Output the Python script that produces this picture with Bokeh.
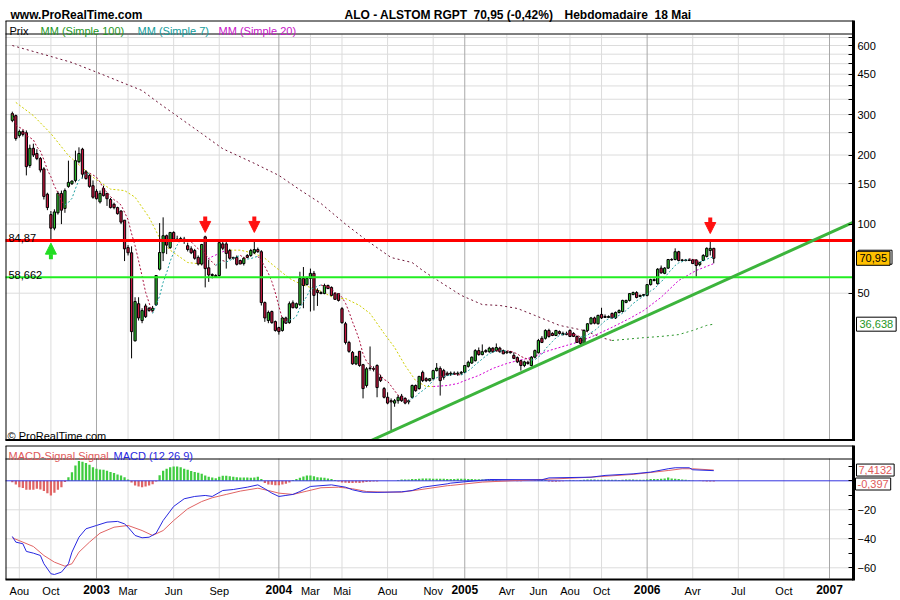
import datetime as dt
import pandas as pd
from bokeh.plotting import figure
from bokeh.layouts import column
from bokeh.models import (Range1d, Label, Arrow, NormalHead, FixedTicker, NumeralTickFormatter)
from bokeh.embed import file_html
from bokeh.resources import INLINE

# ---------------- data (weekly bars, first bar week of 2002-07-15) ----------------
first_week = "2002-07-15"

opens = [283,297,243,253,250,180,214,203,193,174, 135,110,96,112,136,117,146,150,155,187,
         212,169,163,147,139,125,143,136,128,122, 118,114,104,79,75,31,45,38,44,43,
         42,44.5,63.6,75,89,79,92,86,85,86, 80.5,78,76.7,71.6,67,88,64.5,60.3,59.7,59.7,
         82,82,76.7,71.6,71.6,69.4,67.3,73,73,75, 77.5,75.8,45.5,38,41.6,37.6,35.4,34.4,39,37.2,
         45.4,43.2,44.6,58,54.5,58,61,51.4,50.3,49.8, 54,53,49.8,49.8,42.8,36.8,30.5,27.6,24.6,27.9,
         24.4,19.8,23.6,23.5,24.2,21.5,19.2,17.6,17,16.6, 17,17.8,17.4,16.8,17.6,19.8,19.2,22.6,21.2,20.8,
         21.2,23,23.5,23,22.4,22.2,22.4,22.2,22.4,22.6, 24,24.8,25.4,28.1,27,28.1,27.8,28.8,28.1,28.8,
         28.1,27.5,27.8,26.8,26.2,25.4,24.2,25,24.2,26.3, 27.5,31.8,31.8,34.4,33.4,32.7,34,33,33.4,34.4,
         33.4,32.4,31.8,30.2,34.4,36.8,39,36.8,40.4,39.6, 39.2,40.8,39,41.2,41.6,45.6,46.5,49.3,50.3,48.4,
         48.9,48.9,54.5,56.8,55,64.3,61,64.3,70.1,70.1, 75.8,69.8,69.4,69.8,69.8,69.8,66.6,69.4,72.3,76.7,
         78.4]
highs = [309,300,258,258,256,222,224,212,196,177, 137,114,116,139,140,143,189,155,209,216,
         215,172,165,155,142,140,147,137,130,124, 119,115,104,81,80,48,48,43,45,43.5,
         44,60,101,107,90,92,93,89,88,88, 83,80,78,73,82,89,70,61,60.5,84.8,
         85,85,78,72,73,70,72,74,78,84.8, 79,77,46,42,42,38,35.7,39.4,39.5,46,
         46.5,45.5,62,65,59,64,62.5,52.5,51,55, 54.5,53.5,50.5,50,43.5,37.5,31,28,26.7,28,
         24.6,23.8,29.3,24,24.5,22,19.5,18.5,17.4,17.3, 18,18.2,17.6,17.2,20,20,21.8,23,21.5,21.3,
         23.2,24.8,24,23.4,22.8,22.8,22.8,22.8,22.9,24.3, 25.4,26.5,28.5,29,29.9,28.5,29.2,29.1,30.2,29.2,
         28.4,28,28,27.6,26.5,25.6,25.4,25.4,26.6,28.4, 31.6,32.5,34.8,35,33.8,34.6,34.4,34,34,34.8,
         33.8,32.7,32,34.8,37,39.4,39.5,40.3,43.2,40.4, 40,41.2,41.6,42.5,46.8,46.8,50,50.8,51,49.3,
         49.6,54.8,57.8,58,64.3,66,65,70.5,71,78.4, 76.5,70.5,70.5,70.8,70.5,70.2,68.5,74,79.2,85.5,
         78.8]
lows = [278,231,238,241,163,176,196,190,168,128, 115,86,94,110,100,112,144,148,152,184,
        158,156,144,129,128,123,132,120,117,116, 110,100,69,73,26,30.8,38,37,39,41.5,
        41.5,44,62.8,69,74,78,85,84,84,82, 76,74,70,66,66,53,56,58,58.5,59,
        77,64,70,70,66,67,66,71,72,74, 75,44.2,37.5,37,36.8,34,33,34,36.8,36.8,
        43,42.8,44,43,54,41.6,42,44,49.5,49.5, 52,48.5,47,46,36.8,29.9,27.5,24.4,24.3,23.9,
        17.4,19.4,23,22.8,17.6,20.5,17.4,16.4,12.6,16, 16.5,16.8,16.4,16.4,17.4,18.6,19,20.5,20.5,20.6,
        21,22.8,17.9,21,21.8,21.8,22,21.8,22,22.4, 23.7,24.6,25.2,26.7,26.8,27.5,27.5,27.5,27.8,27.5,
        27.2,27.2,27.3,25.8,24.8,23,23.8,24.4,24,26, 27.3,30.3,31.4,32,32.5,32.5,33,32.7,32.8,32.2,
        32.2,30.4,29.6,29.8,34,36.5,36.6,36.5,38.6,39, 39,38.8,38.6,40.8,41.2,45.2,46,49,47.5,48,
        48.4,48.4,54,56.3,54.5,60.8,60.5,63.8,69.2,69.5, 68.8,68.8,68.8,69,67,59,65.5,69,71.6,73,
        67.5]
closes = [303,236,253,246,178,214,200,193,172,132, 118,96,113,136,115,140,152,154,189,203,
          165,158,146,131,129,136,133,129,118,118, 111,102,78,75,34,46,39,42,39.5,42,
          43,59.7,75.2,89,81,92,86,85,86.5,84, 77.5,75,71,67,81.5,64,60,59.7,59,83,
          78.5,74.5,71,71,66.8,67,71,71.6,76.7,77.5, 75.8,45.5,39,41.2,37.2,34.4,34,39,37,45,
          43.2,45,58,54,58,61,48.9,50.3,49.8,54, 52.4,48.9,47,46.5,37.2,30.5,27.9,24.6,26.5,24.2,
          19.2,23.4,23.5,23.3,19.4,20.8,17.6,16.6,16.8,17, 17.6,17,16.6,17,19.8,18.8,21.7,20.8,20.8,21.2,
          23,23.6,20.8,21.5,22,22.4,22.2,22.4,22.6,24.2, 25,26.3,28.1,27,27.8,27.8,28.8,27.8,29,27.8,
          27.2,27.8,27.5,26,25.1,24.2,25.1,24.7,26.3,28.1, 31.1,30.5,34.4,32.4,32.7,34.4,33.4,33.4,33,32.4,
          32.4,30.5,30.2,34.4,36.8,39,37,40,39,39.2, 39.6,39,41.2,42,46.5,46.5,49.8,50.3,47.9,48.9,
          49.3,54.5,57.3,57.3,63.6,61.3,64.3,70.1,69.8,75.8, 69.4,69.4,69.8,69.4,67.3,66,68,73,78.4,78.4,
          70.95]

# moving averages (week index, value)
ma20_week = [1,6,11,16,20,23,28,32,35,39,42,45,50,54,56,61,65,69,72,75,79,82,88,92,95,99,102,106,109,112,
             115,118,120,124,127,129,133,137,141,144,148,152,158,161,166,171,176,180,185,190,195,200]
ma20_vals = [339,297,248,199,176,160,142,140,131,107,87,77,68,67,71,77,77,74.5,71,65,58,55,51,47.4,47.4,44.2,
             40.8,33.4,29,24.2,20.8,19.6,19.6,19.8,20.2,20.8,21.9,23.5,24.7,25.4,26.2,27.8,29.6,30.5,32.7,35.5,
             38.8,42,48,56.8,62.8,67.3]
ma100_week = [0,8,17,25,32,37,42,46,54,60,69,76,82,88,95,101,108,114,117,120,128,134,139,144,149,156,163,169,
              171,180,185,190,194,198,200]
ma100_vals = [600,554,506,453,410,382,335,303,248,213,184,163,141,123,100,85,71.5,68,62.8,58.5,48.9,44.6,44.2,
              42.9,40,36.2,34.4,31.7,31.1,32,32.4,33,34.4,36.2,36.638]

# MACD (12 26 9)
macd_week = [0,1,3,4,6,8,9,11,12,14,16,17,19,21,24,27,30,32,33,35,37,39,41,43,46,49,52,55,57,60,63,67,70,72,74,
             76,78,80,82,85,91,95,97,100,104,111,114,117,124,125,136,151,153,165,169,177,182,187,189,193,194,200]
macd_vals = [-38.4,-42.3,-43.4,-48.7,-49.9,-51.5,-57.2,-64.1,-64.6,-63,-57.2,-49.2,-38.9,-33.1,-30.8,-28.5,-28,
             -29.7,-32,-37.7,-39.3,-38.9,-36.1,-27.4,-17.7,-12.4,-10.8,-10.1,-10.8,-6.7,-6,-4.4,-2.8,-5.5,-8.5,
             -10.8,-10.1,-9.4,-7.4,-3.9,-2.8,-4.4,-6.2,-7.8,-8,-7.6,-6.7,-4.4,-2.1,-1.6,0.9,0.7,2.0,2.5,3.7,4.8,
             6.0,8.3,9.0,9.0,7.6,7.0]
signal_week = [0,3,6,9,12,15,17,19,22,25,29,33,37,40,43,46,50,54,57,61,65,70,73,76,80,84,88,93,97,101,106,111,
               116,124,125,134,144,153,165,177,187,191,194,200]
signal_vals = [-39.3,-42.3,-45.3,-51.5,-56.1,-58.9,-57.2,-49.2,-42.3,-36.1,-32,-30.8,-34.3,-37.7,-34.3,-27.4,
               -19.3,-14.3,-11.7,-9.4,-7.1,-5.1,-6.7,-8.5,-9.4,-7.1,-4.8,-4.4,-5.5,-7.4,-7.8,-7.8,-6.2,-3.4,-3.2,
               -0.9,0.2,1.1,2.5,4.4,7.1,8.3,8.3,7.4132]
hist_vals = [-1.0,-2.5,-4.4,-5.0,-6.2,-6.2,-6.2,-5.5,-6.0,-7.1, -8.5,-10.1,-8.3,-6.2,-4.4,-0.9,2.5,5.9,10.6,13.6,
             13.1,12.2,11.0,9.4,8.3,7.8,7.6,6.9,6.0,5.3, 4.4,3.7,2.5,0.9,-1.2,-3.2,-3.9,-4.4,-3.9,-3.2,
             -2.3,-0.5,3.9,6.9,8.3,9.4,9.9,9.9,9.4,8.3, 7.6,6.7,6.0,5.5,4.8,3.7,2.8,2.3,1.8,2.8,
             3.4,3.4,3.2,2.8,2.5,2.3,2.3,2.3,2.1,2.3, 2.8,1.2,-1.6,-2.5,-2.8,-3.0,-3.0,-2.5,-2.1,-1.2,
             0.5,1.2,2.1,3.0,3.7,3.7,3.2,2.5,2.3,2.1, 1.6,1.2,0.5,-0.5,-1.2,-1.4,-1.6,-1.6,-1.4,-1.6,
             -1.2,-0.9,-0.7,-0.5,-0.4,0,0,0,0,0, 0.5,0.9,0.9,0.9,1.2,1.2,1.4,1.6,1.6,1.6,
             1.4,1.4,1.4,1.4,1.2,1.2,1.2,1.4,1.4,1.4, 1.2,1.2,1.0,1.0,0.9,0.9,0.7,0.5,0.4,0.2,
             0,0,-0.2,-0.2,-0.3,-0.3,-0.2,0,0.2,0.4, 0.5,0.7,0.7,-0.5,-0.7,-0.7,-0.5,-0.3,0.2,0.3,
             0.3,0.2,0.5,0.7,0.9,0.9,0.9,0.7,0.7,0.7, 0.7,0.7,0.7,0.5,0.7,0.9,0.9,0.9,0.7,0.7,
             0.7,0.9,1.2,1.2,1.2,1.4,1.6,2.3,1.6,1.4, 1.2,0.9,0.7,0.4,0.2,0,-0.2,-0.3,-0.4,-0.4,
             -0.397]

# support / resistance, trend line, markers
resistance = 84.87
support = 58.662
trend_dates = ["2004-06-30", "2007-02-18"]
trend_prices = [11.4, 102.0]
arrow_down_weeks = [55, 69, 199]
arrow_down_tips = [92.0, 92.0, 91.0]
arrow_up_weeks = [11]
arrow_up_tips = [82.6]

# axes
price_ticks_labeled = [50, 100, 150, 200, 300, 450, 600]
price_ticks_minor = [250, 350, 400, 500, 550, 650]
macd_ticks_labeled = [-60, -40, -20]
macd_ticks_minor = [-50, -30, -10, 0, 10]
month_dates = ["2002-07-29","2002-09-30","2002-12-30","2003-03-03","2003-06-02","2003-09-01","2003-12-29",
               "2004-03-01","2004-05-03","2004-08-02","2004-11-01","2005-01-03","2005-03-28","2005-05-30",
               "2005-08-01","2005-10-03","2006-01-02","2006-04-03","2006-07-03","2006-10-02","2007-01-01"]
month_labels = ["Aou","Oct","2003","Mar","Jun","Sep","2004","Mar","Mai","Aou","Nov","2005","Avr","Jun",
                "Aou","Oct","2006","Avr","Jul","Oct","2007"]

# ---------------- helpers ----------------
FONT = "Liberation Sans"
EPOCH = dt.datetime(1970, 1, 1)
DAY = 86400000.0


def ms(d):
    if isinstance(d, str):
        d = dt.datetime.strptime(d, "%Y-%m-%d")
    return (d - EPOCH).total_seconds() * 1000.0


w0 = ms(first_week)
def wk(k):
    return w0 + 7 * DAY * k

n = len(closes)
xs = [wk(k) for k in range(n)]

# mapping of pixel columns / rows of the layout to data space
ANCHOR_MS = ms("2007-01-01")
def x_px(px):
    return ANCHOR_MS + (px - 829.0) / 0.50103 * DAY
def p_px(py):
    return 10 ** (2 - (py - 223.6) / 229.5)
def m_px(py):
    return (480.3 - py) / 1.45


def runs(xv, yv, up, down):
    xl, yl, cl = [], [], []
    cur = None
    for i in range(len(xv) - 1):
        c = up if yv[i + 1] > yv[i] else down
        if c != cur:
            xl.append([xv[i]]); yl.append([yv[i]]); cl.append(c); cur = c
        xl[-1].append(xv[i + 1]); yl[-1].append(yv[i + 1])
    return xl, yl, cl


def add_label(p, x, y, text, size="11px", color="black", style="normal", align="left",
              baseline="alphabetic", **kw):
    p.add_layout(Label(x=x, y=y, text=text, text_font=FONT, text_font_size=size, text_color=color,
                       text_font_style=style, text_align=align, text_baseline=baseline, **kw))


def hline(p, y, x0=5, x1=853, color="black", width=1, **kw):
    p.segment(x0=[x_px(x0)], y0=[y], x1=[x_px(x1)], y1=[y], line_color=color, line_width=width, **kw)


def vline(p, x, y0, y1, color="black", width=1, **kw):
    p.segment(x0=[x], y0=[y0], x1=[x], y1=[y1], line_color=color, line_width=width, **kw)


W = 900
xr = Range1d(x_px(0), x_px(900))
tick_ms = [int(ms(d)) for d in month_dates]
is_year = [lab.isdigit() for lab in month_labels]
vgrid_col = ["#A8A8A8" if y else "#DCDCDC" for y in is_year]
X_RIGHT = x_px(853)

# ---------------- price panel ----------------
p1 = figure(width=W, height=441, x_range=xr, y_range=Range1d(p_px(441), p_px(0)),
            x_axis_type="datetime", y_axis_type="log", x_axis_location=None, y_axis_location="right",
            output_backend="svg", toolbar_location=None, min_border=0)
p1.grid.visible = False
p1.outline_line_color = None
ya = p1.yaxis[0]
ya.fixed_location = X_RIGHT
ya.ticker = FixedTicker(ticks=price_ticks_labeled, minor_ticks=price_ticks_minor)
ya.formatter = NumeralTickFormatter(format="0")
ya.major_tick_in = 5; ya.major_tick_out = 0; ya.minor_tick_in = 5; ya.minor_tick_out = 0
ya.major_tick_line_color = "black"; ya.minor_tick_line_color = "black"
ya.axis_line_color = None
ya.major_label_standoff = 4
ya.major_label_text_font = FONT; ya.major_label_text_font_size = "11px"; ya.major_label_text_color = "black"

# grid
for t in price_ticks_labeled + price_ticks_minor:
    hline(p1, t, color="#DCDCDC", level="underlay")
p1.segment(x0=tick_ms, y0=[p_px(440)] * len(tick_ms), x1=tick_ms, y1=[p_px(34)] * len(tick_ms),
           line_color=vgrid_col, line_width=1, level="underlay")

# moving averages (slow ones)
xl, yl, cl = runs([wk(k) for k in ma100_week], ma100_vals, "#2A962A", "#6E1436")
p1.multi_line(xl, yl, line_color=cl, line_dash="2 3", line_width=1)
xl, yl, cl = runs([wk(k) for k in ma20_week], ma20_vals, "#D400D4", "#CFCF00")
p1.multi_line(xl, yl, line_color=cl, line_dash="2 2", line_width=1)

# candles
up_c, dn_c = "#2DB82D", "#C4163F"
p1.segment(x0=xs, y0=highs, x1=xs, y1=lows, line_color="black", line_width=1)
p1.vbar(x=xs, top=[max(o, c) for o, c in zip(opens, closes)],
        bottom=[min(o, c) for o, c in zip(opens, closes)], width=4.5 * DAY,
        fill_color=[up_c if c >= o else dn_c for o, c in zip(opens, closes)],
        line_color="black", line_width=1)

ma7 = pd.Series(closes).rolling(7, min_periods=1).mean().tolist()
xl, yl, cl = runs(xs, ma7, "#1CA0A0", "#A8103E")
p1.multi_line(xl, yl, line_color=cl, line_dash="2 2", line_width=1)

hline(p1, resistance, color="#FF0000", width=3)
hline(p1, support, color="#22EE22", width=2)
p1.line([ms(d) for d in trend_dates], trend_prices, line_color="#3CB43C", line_width=3)

# frame of the price panel
hline(p1, p_px(20.5))
hline(p1, p_px(33.5))
hline(p1, p_px(439.5), width=2)
vline(p1, x_px(5.5), p_px(20.5), p_px(440))
vline(p1, X_RIGHT, p_px(20), p_px(440.5), width=3)

step = 10 ** (16 / 229.5)
for k, tip in zip(arrow_down_weeks, arrow_down_tips):
    p1.add_layout(Arrow(end=NormalHead(size=11, fill_color="#FF1010", line_color="#FF1010"),
                        x_start=wk(k), y_start=tip * step, x_end=wk(k), y_end=tip,
                        line_color="#FF1010", line_width=4))
for k, tip in zip(arrow_up_weeks, arrow_up_tips):
    p1.add_layout(Arrow(end=NormalHead(size=11, fill_color="#22DD22", line_color="#22DD22"),
                        x_start=wk(k), y_start=tip / step, x_end=wk(k), y_end=tip,
                        line_color="#22DD22", line_width=4))

# texts
add_label(p1, x_px(10), p_px(14.5), "www.ProRealTime.com", size="12px", style="bold")
add_label(p1, x_px(344), p_px(14.5), "ALO - ALSTOM RGPT", size="12px", style="bold")
add_label(p1, x_px(473), p_px(14.5), "70,95 (-0,42%)", size="12px", style="bold")
add_label(p1, x_px(564), p_px(14.5), "Hebdomadaire", size="12px", style="bold")
add_label(p1, x_px(654), p_px(14.5), "18 Mai", size="12px", style="bold")
add_label(p1, x_px(9), p_px(30.5), "Prix")
add_label(p1, x_px(40), p_px(30.5), "MM (Simple 100)", color="#1E961E")
add_label(p1, x_px(137), p_px(30.5), "MM (Simple 7)", color="#149C9C")
add_label(p1, x_px(218), p_px(30.5), "MM (Simple 20)", color="#C814C8")
add_label(p1, x_px(8), p_px(237), "84,87")
add_label(p1, x_px(8), p_px(274), "58,662")
add_label(p1, x_px(7), p_px(435.5), "\u00a9 ProRealTime.com")
add_label(p1, X_RIGHT, ma7[-1], ("%.2f" % ma7[-1]).replace(".", ","), color="#149C9C", baseline="middle",
          background_fill_color="white", border_line_color="black", padding=3, x_offset=5)
add_label(p1, X_RIGHT, closes[-1], "70,95", baseline="middle", background_fill_color="#FFC000",
          border_line_color="black", padding=3, x_offset=3)
add_label(p1, X_RIGHT, ma100_vals[-1], "36,638", color="#1E961E", baseline="middle",
          background_fill_color="white", border_line_color="black", padding=3, x_offset=3)

# ---------------- MACD panel ----------------
p2 = figure(width=W, height=159, x_range=xr, y_range=Range1d(m_px(600), m_px(441)),
            x_axis_type="datetime", y_axis_location="right",
            output_backend="svg", toolbar_location=None, min_border=0)
p2.grid.visible = False
p2.outline_line_color = None
xa = p2.xaxis[0]
xa.fixed_location = m_px(579)
xa.ticker = FixedTicker(ticks=tick_ms)
xa.major_label_overrides = {t: ("" if y else lab) for t, lab, y in zip(tick_ms, month_labels, is_year)}
xa.major_tick_in = 0; xa.major_tick_out = 0; xa.minor_tick_in = 0; xa.minor_tick_out = 0
xa.axis_line_color = None
xa.major_label_standoff = 5
xa.major_label_text_font = FONT; xa.major_label_text_font_size = "11px"; xa.major_label_text_color = "black"
yb = p2.yaxis[0]
yb.fixed_location = X_RIGHT
yb.ticker = FixedTicker(ticks=macd_ticks_labeled, minor_ticks=macd_ticks_minor)
yb.major_tick_in = 5; yb.major_tick_out = 0; yb.minor_tick_in = 5; yb.minor_tick_out = 0
yb.major_tick_line_color = "black"; yb.minor_tick_line_color = "black"
yb.axis_line_color = None
yb.major_label_standoff = 4
yb.major_label_text_font = FONT; yb.major_label_text_font_size = "11px"; yb.major_label_text_color = "black"

for t in [-20, -40, -60]:
    hline(p2, t, color="#DCDCDC", level="underlay")
p2.segment(x0=tick_ms, y0=[m_px(578)] * len(tick_ms), x1=tick_ms, y1=[m_px(458)] * len(tick_ms),
           line_color=vgrid_col, line_width=1, level="underlay")

p2.vbar(x=xs, top=[max(h, 0) for h in hist_vals], bottom=[min(h, 0) for h in hist_vals], width=4.5 * DAY,
        fill_color=["#40CC40" if h >= 0 else "#E06464" for h in hist_vals], line_color=None)
hline(p2, 0, color="#3434E0")
p2.line([wk(k) for k in signal_week], signal_vals, line_color="#E06464", line_width=1)
p2.line([wk(k) for k in macd_week], macd_vals, line_color="#2828E0", line_width=1)

hline(p2, m_px(445.5))
hline(p2, m_px(458.5))
hline(p2, m_px(579), width=2)
vline(p2, x_px(5.5), m_px(445.5), m_px(579))
vline(p2, X_RIGHT, m_px(445), m_px(580), width=3)

add_label(p2, x_px(8), m_px(455.5), "MACD-Signal Signal", color="#E05A5A")
add_label(p2, x_px(113), m_px(455.5), "MACD (12 26 9)", color="#2828E0")
add_label(p2, X_RIGHT, signal_vals[-1], "7,4132", color="#E05A5A", baseline="middle",
          background_fill_color="white", border_line_color="black", padding=2, x_offset=3)
add_label(p2, X_RIGHT, m_px(483.5), "-0,397", color="#E05A5A", baseline="middle",
          background_fill_color="white", border_line_color="black", padding=2, x_offset=2)
for t, lab, y in zip(tick_ms, month_labels, is_year):
    if y:
        add_label(p2, t, m_px(584), lab, size="12px", style="bold", align="center", baseline="top")

layout = column(p1, p2, spacing=0)
with open("out.html", "w", encoding="utf-8") as f:
    f.write(file_html(layout, INLINE))
